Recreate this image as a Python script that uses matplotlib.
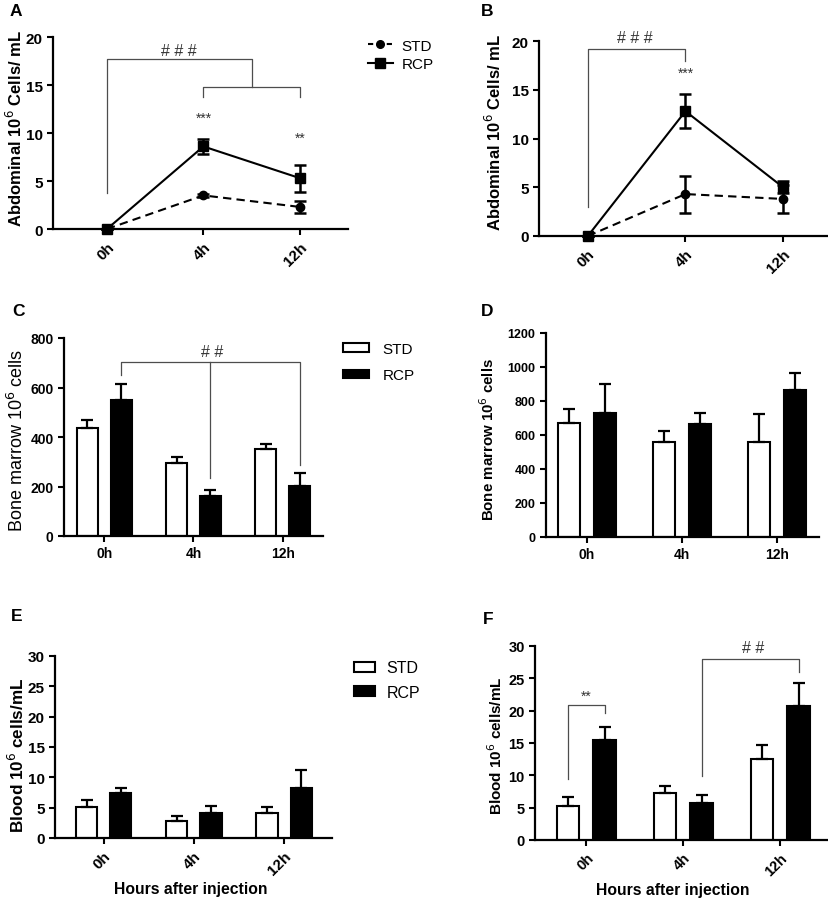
import matplotlib
matplotlib.use("Agg")
import matplotlib.pyplot as plt
import numpy as np
from matplotlib.lines import Line2D

plt.rcParams['font.family'] = ['Liberation Sans', 'DejaVu Sans']

# categories
hours = ['0h', '4h', '12h']

# A - abdominal, experiment 1
a_std = [0.0, 3.5, 2.3]
a_std_err = [0.0, 0.15, 0.6]
a_rcp = [0.0, 8.6, 5.3]
a_rcp_err = [0.0, 0.75, 1.4]

# B - abdominal, experiment 2
b_std = [0.0, 4.3, 3.8]
b_std_err = [0.0, 1.9, 1.4]
b_rcp = [0.0, 12.8, 5.0]
b_rcp_err = [0.0, 1.75, 0.6]

# C - bone marrow, experiment 1
c_std = [436, 294, 350]
c_std_err = [34, 26, 22]
c_rcp = [549, 160, 202]
c_rcp_err = [65, 25, 51]

# D - bone marrow, experiment 2
d_std = [671, 557, 557]
d_std_err = [82, 65, 166]
d_rcp = [727, 665, 867]
d_rcp_err = [173, 62, 96]

# E - blood, experiment 1
e_std = [5.1, 2.8, 4.1]
e_std_err = [1.1, 0.8, 0.95]
e_rcp = [7.4, 4.2, 8.2]
e_rcp_err = [0.9, 1.1, 3.0]

# F - blood, experiment 2
f_std = [5.3, 7.2, 12.6]
f_std_err = [1.4, 1.2, 2.1]
f_rcp = [15.5, 5.7, 20.7]
f_rcp_err = [1.9, 1.2, 3.6]

W, H = 829, 903
fig = plt.figure(figsize=(W / 100, H / 100), dpi=100)


def make_ax(l, r, t, b):
    # pixel box -> figure fraction
    return fig.add_axes([l / W, 1 - b / H, (r - l) / W, (b - t) / H])


def style(ax, ylim, yticks, xlim, tick_fs, rot, xtick_fs=None):
    for s in ['top', 'right']:
        ax.spines[s].set_visible(False)
    for s in ['left', 'bottom']:
        ax.spines[s].set_linewidth(1.6)
    ax.set_ylim(ylim)
    ax.set_yticks(yticks)
    ax.set_xlim(xlim)
    ax.set_xticks(range(len(hours)))
    ax.tick_params(width=1.5, length=4, direction='out')
    ax.set_yticklabels([str(v) for v in yticks], fontsize=tick_fs, fontweight='bold')
    xfs = xtick_fs or tick_fs
    if rot:
        ax.set_xticklabels(hours, fontsize=xfs, fontweight='bold', rotation=45,
                           ha='right', rotation_mode='anchor')
    else:
        ax.set_xticklabels(hours, fontsize=xfs, fontweight='bold')


def bracket(ax, pts, lw=0.9):
    xs, ys = zip(*pts)
    ax.plot(xs, ys, color='0.3', lw=lw, clip_on=False, zorder=5)


x = np.arange(len(hours))
off = 0.19
bw = 0.235


def bars(ax, std, std_err, rcp, rcp_err):
    ek = dict(elinewidth=1.6, capthick=1.6, ecolor='black')
    ax.bar(x - off, std, bw, color='white', edgecolor='black', linewidth=1.5,
           yerr=[np.zeros(3), std_err], capsize=4, error_kw=ek, label='STD')
    ax.bar(x + off, rcp, bw, color='black', edgecolor='black', linewidth=1.5,
           yerr=[np.zeros(3), rcp_err], capsize=4, error_kw=ek, label='RCP')


def lines(ax, std, std_err, rcp, rcp_err):
    ax.errorbar(x, std, yerr=std_err, fmt='o', ls=(0, (4, 2.5)), color='black', lw=1.5,
                ms=6, capsize=4, elinewidth=1.8, capthick=1.8, clip_on=False, zorder=3)
    ax.errorbar(x, rcp, yerr=rcp_err, fmt='s-', color='black', lw=1.5,
                ms=7, capsize=4, elinewidth=1.8, capthick=1.8, clip_on=False, zorder=4)


def panel_letter(px, py, s):
    fig.text(px / W, 1 - py / H, s, fontsize=12.5, fontweight='bold', ha='center', va='center')


def sig(ax, xv, yv, s, fs):
    ax.text(xv, yv, s, fontsize=fs, ha='center', va='center', color='0.2', clip_on=False)


# ---- A ----
axA = make_ax(53, 348, 38, 230)
lines(axA, a_std, a_std_err, a_rcp, a_rcp_err)
style(axA, (0, 20), [0, 5, 10, 15, 20], (-0.56, 2.5), 11, True)
axA.set_ylabel('Abdominal 10$^{6}$ Cells/ mL', fontsize=12, fontweight='bold')
axA.yaxis.set_label_coords(25 / W, 1 - 128 / H, transform=fig.transFigure)
bracket(axA, [(0, 3.8), (0, 17.7), (1.5, 17.7), (1.5, 14.8)])
bracket(axA, [(1, 13.7), (1, 14.8), (2, 14.8), (2, 13.7)])
sig(axA, 0.74, 18.6, '# # #', 11.5)
sig(axA, 1, 11.6, '***', 10)
sig(axA, 2, 9.5, '**', 10)
hA = [Line2D([], [], color='black', marker='o', ms=5.5, ls=(0, (2.5, 2)), lw=1.5),
      Line2D([], [], color='black', marker='s', ms=6.5, ls='-', lw=1.5)]
axA.legend(hA, ['STD', 'RCP'], loc='center left', bbox_to_anchor=(362 / W, 1 - 56 / H),
           bbox_transform=fig.transFigure, frameon=False, fontsize=11,
           handlelength=1.6, handletextpad=0.6, labelspacing=0.3, borderaxespad=0)
panel_letter(16, 12, 'A')

# ---- B ----
axB = make_ax(539, 827, 42, 237)
lines(axB, b_std, b_std_err, b_rcp, b_rcp_err)
style(axB, (0, 20), [0, 5, 10, 15, 20], (-0.5, 2.45), 11, True)
axB.set_ylabel('Abdominal 10$^{6}$ Cells/ mL', fontsize=12, fontweight='bold')
axB.yaxis.set_label_coords(504 / W, 1 - 132 / H, transform=fig.transFigure)
bracket(axB, [(0, 3.0), (0, 19.2), (1, 19.2), (1, 18.0)])
sig(axB, 0.48, 20.4, '# # #', 11.5)
sig(axB, 1, 16.7, '***', 10)
panel_letter(487, 11, 'B')

# ---- C ----
axC = make_ax(64, 323, 339, 537)
bars(axC, c_std, c_std_err, c_rcp, c_rcp_err)
style(axC, (0, 800), [0, 200, 400, 600, 800], (-0.45, 2.45), 10, False)
axC.set_ylabel('Bone marrow 10$^{6}$ cells', fontsize=13, fontweight='normal')
axC.yaxis.set_label_coords(27 / W, 1 - 440 / H, transform=fig.transFigure)
bracket(axC, [(off, 650), (off, 704), (2 + off, 704), (2 + off, 287)])
bracket(axC, [(1 + off, 704), (1 + off, 234)])
sig(axC, 1.21, 745, '# #', 11.5)
axC.legend(loc='center left', bbox_to_anchor=(337 / W, 1 - 363 / H),
           bbox_transform=fig.transFigure, frameon=False, fontsize=11,
           handlelength=1.7, handleheight=0.45, handletextpad=0.9, labelspacing=0.8,
           borderaxespad=0)
panel_letter(19, 312, 'C')

# ---- D ----
axD = make_ax(546, 819, 334, 538)
bars(axD, d_std, d_std_err, d_rcp, d_rcp_err)
style(axD, (0, 1200), [0, 200, 400, 600, 800, 1000, 1200], (-0.43, 2.44), 9, False, 10)
axD.set_ylabel('Bone marrow 10$^{6}$ cells', fontsize=10.8, fontweight='bold')
axD.yaxis.set_label_coords(497 / W, 1 - 440 / H, transform=fig.transFigure)
panel_letter(487, 312, 'D')

# ---- E ----
axE = make_ax(55, 332, 657, 839)
bars(axE, e_std, e_std_err, e_rcp, e_rcp_err)
style(axE, (0, 30), [0, 5, 10, 15, 20, 25, 30], (-0.54, 2.53), 11, True)
axE.set_ylabel('Blood 10$^{6}$ cells/mL', fontsize=12.3, fontweight='bold')
axE.yaxis.set_label_coords(27 / W, 1 - 755 / H, transform=fig.transFigure)
axE.set_xlabel('Hours after injection', fontsize=11.3, fontweight='bold')
axE.xaxis.set_label_coords(191 / W, 1 - 882 / H, transform=fig.transFigure)
axE.legend(loc='center left', bbox_to_anchor=(348 / W, 1 - 681 / H),
           bbox_transform=fig.transFigure, frameon=False, fontsize=11.5,
           handlelength=1.3, handleheight=0.6, handletextpad=0.7, labelspacing=0.6,
           borderaxespad=0)
panel_letter(17, 617, 'E')

# ---- F ----
axF = make_ax(535, 827, 647, 841)
bars(axF, f_std, f_std_err, f_rcp, f_rcp_err)
style(axF, (0, 30), [0, 5, 10, 15, 20, 25, 30], (-0.53, 2.48), 10.5, True)
axF.set_ylabel('Blood 10$^{6}$ cells/mL', fontsize=11, fontweight='bold')
axF.yaxis.set_label_coords(505 / W, 1 - 746 / H, transform=fig.transFigure)
axF.set_xlabel('Hours after injection', fontsize=11.3, fontweight='bold')
axF.xaxis.set_label_coords(673 / W, 1 - 883 / H, transform=fig.transFigure)
bracket(axF, [(-off, 9.4), (-off, 20.9), (off, 20.9), (off, 19.7)])
sig(axF, 0, 22.3, '**', 10)
bracket(axF, [(1 + off, 9.85), (1 + off, 28.0), (2 + off, 28.0), (2 + off, 26.0)])
sig(axF, 1.72, 29.7, '# #', 11.5)
panel_letter(488, 620, 'F')

fig.savefig('out.png', dpi=100)
